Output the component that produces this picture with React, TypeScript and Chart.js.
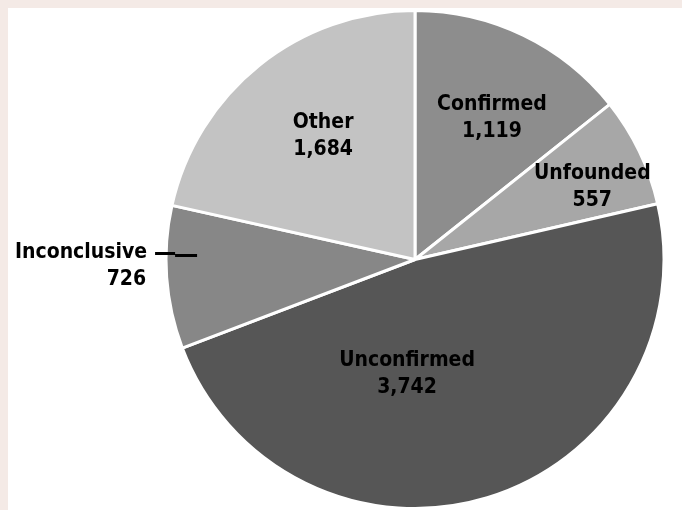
import React, { useEffect, useRef } from "react";
import { Chart, registerables } from "chart.js";

Chart.register(...registerables);

const categories = ["Confirmed", "Unfounded", "Unconfirmed", "Inconclusive", "Other"];
const counts = [1119, 557, 3742, 726, 1684];
const valueLabels = ["1,119", "557", "3,742", "726", "1,684"];
const sliceColors = ["#8d8d8d", "#a7a7a7", "#565656", "#878787", "#c3c3c3"];

// label anchor offsets, in units of the pie radius from its centre
const labelAnchors = [
  { dx: 0.309, dy: -0.602, align: "center" },
  { dx: 0.712, dy: -0.325, align: "center" },
  { dx: -0.032, dy: 0.426, align: "center" },
  { dx: -1.076, dy: -0.008, align: "right" },
  { dx: -0.369, dy: -0.53, align: "center" },
];

const labelPlugin = {
  id: "sliceLabels",
  afterDatasetsDraw(chart: any) {
    const meta = chart.getDatasetMeta(0);
    const arc0 = meta.data[0];
    if (!arc0) return;
    const cx = arc0.x;
    const cy = arc0.y;
    const r = arc0.outerRadius;
    const ctx = chart.ctx;
    ctx.save();
    ctx.fillStyle = "#000";
    ctx.font = "bold 21px 'DejaVu Sans Condensed', 'DejaVu Sans', sans-serif";
    ctx.textBaseline = "alphabetic";
    categories.forEach((name, i) => {
      const a = labelAnchors[i];
      const x = cx + a.dx * r;
      const y = cy + a.dy * r;
      ctx.textAlign = a.align;
      ctx.fillText(name, x, y);
      ctx.fillText(valueLabels[i], a.align === "right" ? x - 1 : x, y + 27);
    });
    // leader line for Inconclusive
    const ia = labelAnchors[3];
    const lx = cx + ia.dx * r + 8;
    const ly = cy + ia.dy * r - 4;
    ctx.strokeStyle = "#000";
    ctx.lineWidth = 3;
    ctx.beginPath();
    ctx.moveTo(lx, ly);
    ctx.lineTo(lx + 20, ly);
    ctx.moveTo(lx + 20, ly + 2);
    ctx.lineTo(lx + 42, ly + 2);
    ctx.stroke();
    ctx.restore();
  },
};

export default function App() {
  const ref = useRef<HTMLCanvasElement>(null);
  useEffect(() => {
    const chart = new Chart(ref.current!, {
      type: "pie",
      data: {
        labels: categories,
        datasets: [
          {
            data: counts,
            backgroundColor: sliceColors,
            borderColor: "#ffffff",
            borderWidth: 3,
          },
        ],
      },
      options: {
        responsive: false,
        animation: false,
        devicePixelRatio: 1,
        layout: { padding: { left: 164, right: 16, top: 9, bottom: 0 } },
        plugins: {
          legend: { display: false },
          tooltip: { enabled: false },
        },
      },
      plugins: [labelPlugin],
    });
    return () => chart.destroy();
  }, []);
  return (
    <div
      style={{
        position: "fixed",
        left: 0,
        top: 0,
        width: 682,
        height: 510,
        background: "#f4eae6",
        overflow: "hidden",
      }}
    >
      <div
        style={{
          position: "absolute",
          left: 8,
          top: 8,
          width: 674,
          height: 502,
          background: "#ffffff",
        }}
      />
      <canvas
        ref={ref}
        width={682}
        height={510}
        style={{ position: "absolute", left: 0, top: 0, width: 682, height: 510 }}
      />
    </div>
  );
}
